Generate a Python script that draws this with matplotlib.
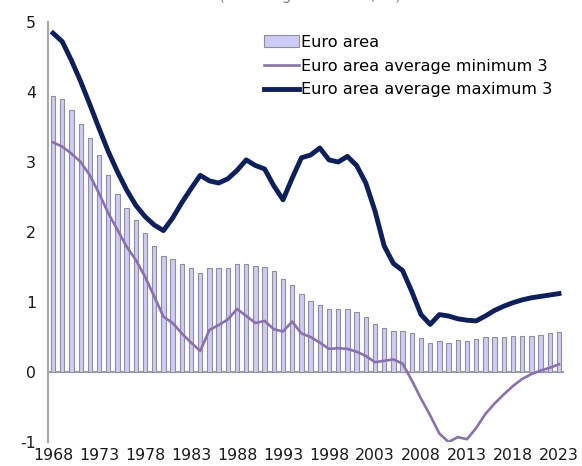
import numpy as np
import matplotlib
matplotlib.use("Agg")
import matplotlib.pyplot as plt

plt.rcParams["axes.unicode_minus"] = False

years = list(range(1968, 2024))

euro_area = [3.94, 3.90, 3.74, 3.54, 3.34, 3.10, 2.82, 2.54, 2.34, 2.17,
             1.98, 1.80, 1.66, 1.61, 1.54, 1.48, 1.42, 1.48, 1.48, 1.48,
             1.54, 1.54, 1.52, 1.50, 1.44, 1.33, 1.24, 1.11, 1.02, 0.96,
             0.90, 0.90, 0.90, 0.86, 0.78, 0.69, 0.63, 0.59, 0.58, 0.55,
             0.48, 0.42, 0.44, 0.41, 0.46, 0.44, 0.47, 0.50, 0.50, 0.50,
             0.51, 0.51, 0.52, 0.53, 0.55, 0.57]

avg_min3 = [3.28, 3.22, 3.12, 3.00, 2.81, 2.55, 2.27, 2.03, 1.79, 1.60,
            1.36, 1.08, 0.79, 0.70, 0.55, 0.42, 0.30, 0.60, 0.67, 0.75,
            0.90, 0.80, 0.70, 0.73, 0.61, 0.58, 0.72, 0.55, 0.50, 0.42,
            0.33, 0.34, 0.33, 0.29, 0.23, 0.14, 0.16, 0.18, 0.12, -0.12,
            -0.38, -0.62, -0.88, -1.00, -0.93, -0.96, -0.80, -0.60, -0.45, -0.32,
            -0.20, -0.10, -0.03, 0.02, 0.06, 0.11]

avg_max3 = [4.84, 4.72, 4.45, 4.15, 3.82, 3.48, 3.15, 2.86, 2.60, 2.38,
            2.22, 2.10, 2.02, 2.20, 2.42, 2.62, 2.81, 2.73, 2.70, 2.76,
            2.88, 3.03, 2.95, 2.90, 2.66, 2.46, 2.77, 3.06, 3.10, 3.20,
            3.03, 3.00, 3.08, 2.95, 2.70, 2.30, 1.80, 1.55, 1.45, 1.15,
            0.82, 0.68, 0.82, 0.80, 0.76, 0.74, 0.73, 0.80, 0.88, 0.94,
            0.99, 1.03, 1.06, 1.08, 1.10, 1.12]

tick_years = list(range(1968, 2024, 5))

fig = plt.figure(figsize=(5.82, 4.66), dpi=100)
ax = fig.add_axes([0.0833, 0.0515, 0.885, 0.9013])

x = np.arange(len(years))
bars = ax.bar(x, euro_area, width=0.47, color="#ccccf7", edgecolor="#8e8e9e",
              linewidth=0.8, label="Euro area", zorder=2)
l_min, = ax.plot(x, avg_min3, color="#8a70b0", linewidth=1.9,
                 label="Euro area average minimum 3", zorder=3)
l_max, = ax.plot(x, avg_max3, color="#0c1f5e", linewidth=3.5,
                 label="Euro area average maximum 3", zorder=4)

ax.axhline(0, color="#a0a0a0", linewidth=1.5, zorder=1)
ax.set_xlim(-0.5, len(years) - 0.5)
ax.set_ylim(-1, 5)
ax.set_yticks(range(-1, 6))
ax.set_xticks([years.index(y) for y in tick_years])
ax.set_xticklabels([str(y) for y in tick_years])
ax.tick_params(length=0, labelsize=11.3, colors="#1a1a1a")
ax.tick_params(axis="y", pad=9)
ax.tick_params(axis="x", pad=4)

for s in ["top", "right", "bottom"]:
    ax.spines[s].set_visible(False)
ax.spines["left"].set_color("#a8a8a8")
ax.spines["left"].set_linewidth(1.5)

ax.legend([bars, l_min, l_max],
          ["Euro area", "Euro area average minimum 3", "Euro area average maximum 3"],
          loc="upper left", bbox_to_anchor=(0.405, 0.985), frameon=False,
          fontsize=11.6, handlelength=2.2, handletextpad=0.15, labelspacing=0.55,
          borderaxespad=0)

# title of the original sits above the crop, only its lowest pixels show
fig.text(0.533, 1.0, "(annual growth rate, %)", ha="center", va="baseline",
         fontsize=11, color="#888888")

fig.savefig("out.png", dpi=100)
